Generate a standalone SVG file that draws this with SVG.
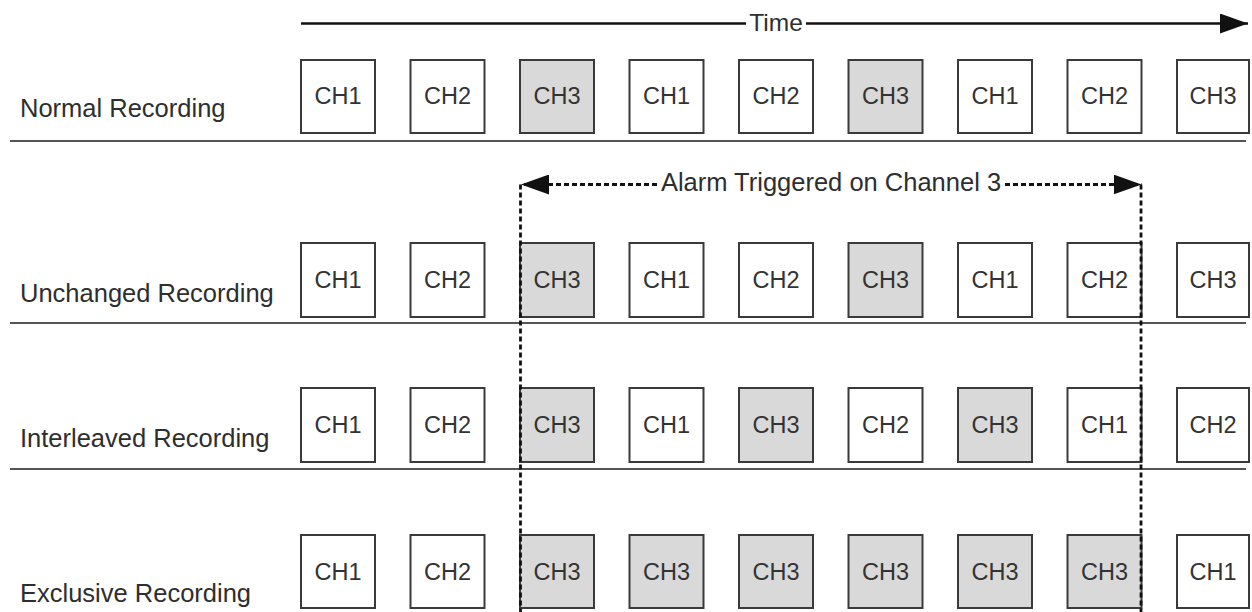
<svg xmlns="http://www.w3.org/2000/svg" width="1252" height="612" viewBox="0 0 1252 612">
  <style>
    .lbl { font-family: "Liberation Sans", Arial, sans-serif; font-size: 25.5px; fill: #2e2e2e; }
    .axis { font-family: "Liberation Sans", Arial, sans-serif; font-size: 24.5px; fill: #2e2e2e; text-anchor: middle; }
    .ch { font-family: "Liberation Sans", Arial, sans-serif; font-size: 23.5px; fill: #333; text-anchor: middle; }
    .box { fill: #fff; stroke: #3a3a3a; stroke-width: 2; }
    .box.hl { fill: #d9d9d9; }
    .sep { stroke: #555; stroke-width: 2.2; }
    .dash { stroke: #111; stroke-width: 2.8; stroke-dasharray: 5 3; fill: none; }
    .solid { stroke: #111; stroke-width: 2.6; fill: none; }
  </style>
  <defs>
    <marker id="head" viewBox="0 0 28 20" refX="28" refY="10" markerWidth="28" markerHeight="20" markerUnits="userSpaceOnUse" orient="auto-start-reverse">
      <path d="M0,0 L28,10 L0,20 Z" fill="#111"/>
    </marker>
  </defs>
  <rect width="1252" height="612" fill="#fff"/>

  <!-- row labels -->
  <g id="labels">
    <text class="lbl" x="20" y="117">Normal Recording</text>
    <text class="lbl" x="20" y="302">Unchanged Recording</text>
    <text class="lbl" x="20" y="447">Interleaved Recording</text>
    <text class="lbl" x="20" y="602">Exclusive Recording</text>
  </g>

  <!-- row separators -->
  <g id="separators">
    <line class="sep" x1="10" y1="141" x2="1246" y2="141"/>
    <line class="sep" x1="10" y1="323" x2="1246" y2="323"/>
    <line class="sep" x1="10" y1="469" x2="1246" y2="469"/>
  </g>

  <!-- Normal Recording -->
  <g id="row-normal">
    <g id="n1"><rect class="box" x="301" y="60" width="74" height="73"/><text class="ch" x="338" y="104">CH1</text></g>
    <g id="n2"><rect class="box" x="410.5" y="60" width="74" height="73"/><text class="ch" x="447.5" y="104">CH2</text></g>
    <g id="n3"><rect class="box hl" x="520" y="60" width="74" height="73"/><text class="ch" x="557" y="104">CH3</text></g>
    <g id="n4"><rect class="box" x="629.5" y="60" width="74" height="73"/><text class="ch" x="666.5" y="104">CH1</text></g>
    <g id="n5"><rect class="box" x="739" y="60" width="74" height="73"/><text class="ch" x="776" y="104">CH2</text></g>
    <g id="n6"><rect class="box hl" x="848.5" y="60" width="74" height="73"/><text class="ch" x="885.5" y="104">CH3</text></g>
    <g id="n7"><rect class="box" x="958" y="60" width="74" height="73"/><text class="ch" x="995" y="104">CH1</text></g>
    <g id="n8"><rect class="box" x="1067.5" y="60" width="74" height="73"/><text class="ch" x="1104.5" y="104">CH2</text></g>
    <g id="n9"><rect class="box" x="1177" y="60" width="72" height="73"/><text class="ch" x="1213" y="104">CH3</text></g>
  </g>

  <!-- Unchanged Recording -->
  <g id="row-unchanged">
    <g id="u1"><rect class="box" x="301" y="243" width="74" height="74"/><text class="ch" x="338" y="288">CH1</text></g>
    <g id="u2"><rect class="box" x="410.5" y="243" width="74" height="74"/><text class="ch" x="447.5" y="288">CH2</text></g>
    <g id="u3"><rect class="box hl" x="520" y="243" width="74" height="74"/><text class="ch" x="557" y="288">CH3</text></g>
    <g id="u4"><rect class="box" x="629.5" y="243" width="74" height="74"/><text class="ch" x="666.5" y="288">CH1</text></g>
    <g id="u5"><rect class="box" x="739" y="243" width="74" height="74"/><text class="ch" x="776" y="288">CH2</text></g>
    <g id="u6"><rect class="box hl" x="848.5" y="243" width="74" height="74"/><text class="ch" x="885.5" y="288">CH3</text></g>
    <g id="u7"><rect class="box" x="958" y="243" width="74" height="74"/><text class="ch" x="995" y="288">CH1</text></g>
    <g id="u8"><rect class="box" x="1067.5" y="243" width="74" height="74"/><text class="ch" x="1104.5" y="288">CH2</text></g>
    <g id="u9"><rect class="box" x="1177" y="243" width="72" height="74"/><text class="ch" x="1213" y="288">CH3</text></g>
  </g>

  <!-- Interleaved Recording -->
  <g id="row-interleaved">
    <g id="i1"><rect class="box" x="301" y="388" width="74" height="74"/><text class="ch" x="338" y="433">CH1</text></g>
    <g id="i2"><rect class="box" x="410.5" y="388" width="74" height="74"/><text class="ch" x="447.5" y="433">CH2</text></g>
    <g id="i3"><rect class="box hl" x="520" y="388" width="74" height="74"/><text class="ch" x="557" y="433">CH3</text></g>
    <g id="i4"><rect class="box" x="629.5" y="388" width="74" height="74"/><text class="ch" x="666.5" y="433">CH1</text></g>
    <g id="i5"><rect class="box hl" x="739" y="388" width="74" height="74"/><text class="ch" x="776" y="433">CH3</text></g>
    <g id="i6"><rect class="box" x="848.5" y="388" width="74" height="74"/><text class="ch" x="885.5" y="433">CH2</text></g>
    <g id="i7"><rect class="box hl" x="958" y="388" width="74" height="74"/><text class="ch" x="995" y="433">CH3</text></g>
    <g id="i8"><rect class="box" x="1067.5" y="388" width="74" height="74"/><text class="ch" x="1104.5" y="433">CH1</text></g>
    <g id="i9"><rect class="box" x="1177" y="388" width="72" height="74"/><text class="ch" x="1213" y="433">CH2</text></g>
  </g>

  <!-- Exclusive Recording -->
  <g id="row-exclusive">
    <g id="e1"><rect class="box" x="301" y="535" width="74" height="73"/><text class="ch" x="338" y="580">CH1</text></g>
    <g id="e2"><rect class="box" x="410.5" y="535" width="74" height="73"/><text class="ch" x="447.5" y="580">CH2</text></g>
    <g id="e3"><rect class="box hl" x="520" y="535" width="74" height="73"/><text class="ch" x="557" y="580">CH3</text></g>
    <g id="e4"><rect class="box hl" x="629.5" y="535" width="74" height="73"/><text class="ch" x="666.5" y="580">CH3</text></g>
    <g id="e5"><rect class="box hl" x="739" y="535" width="74" height="73"/><text class="ch" x="776" y="580">CH3</text></g>
    <g id="e6"><rect class="box hl" x="848.5" y="535" width="74" height="73"/><text class="ch" x="885.5" y="580">CH3</text></g>
    <g id="e7"><rect class="box hl" x="958" y="535" width="74" height="73"/><text class="ch" x="995" y="580">CH3</text></g>
    <g id="e8"><rect class="box hl" x="1067.5" y="535" width="74" height="73"/><text class="ch" x="1104.5" y="580">CH3</text></g>
    <g id="e9"><rect class="box" x="1177" y="535" width="72" height="73"/><text class="ch" x="1213" y="580">CH1</text></g>
  </g>

  <!-- connectors: time axis and alarm window -->
  <g id="connectors">
    <line class="solid" x1="301" y1="23.5" x2="746" y2="23.5"/>
    <line class="solid" x1="806" y1="23.5" x2="1248" y2="23.5" marker-end="url(#head)"/>
    <text class="axis" x="776" y="31">Time</text>

    <line class="dash" x1="657" y1="184.5" x2="521" y2="184.5" marker-end="url(#head)"/>
    <line class="dash" x1="1005" y1="184.5" x2="1141.5" y2="184.5" marker-end="url(#head)"/>
    <text class="lbl" x="831" y="191" text-anchor="middle">Alarm Triggered on Channel 3</text>
    <line class="dash" x1="520.5" y1="184.5" x2="520.5" y2="612"/>
    <line class="dash" x1="1141" y1="184.5" x2="1141" y2="612"/>
  </g>
</svg>
